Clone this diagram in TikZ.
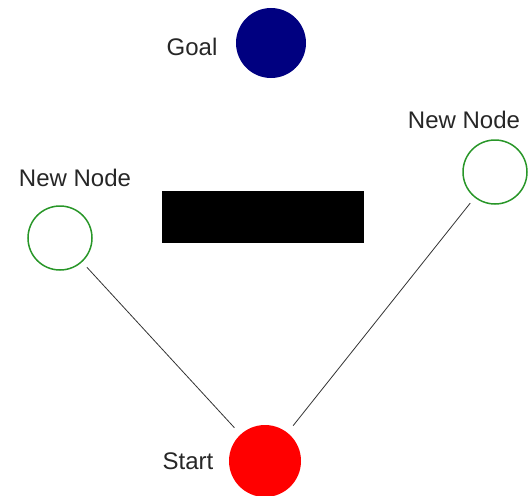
\documentclass[tikz,border=0pt]{standalone}
\usepackage{fontspec}
\setmainfont{Liberation Sans}
\usetikzlibrary{positioning}
\definecolor{goalblue}{RGB}{0,0,128}
\definecolor{nodegreen}{RGB}{40,150,40}

\begin{document}
\begin{tikzpicture}[x=1pt,y=-1pt,
  every node/.style={font=\fontsize{24}{28}\selectfont, text=black!85},
  vertex/.style={circle, draw=nodegreen, line width=1.5pt, minimum size=64pt, inner sep=0pt},
  edge/.style={black!80, line width=0.8pt, shorten <=7pt, shorten >=9pt}]
\useasboundingbox (0,0) rectangle (529,495);
% goal and start
\node[circle, fill=goalblue, minimum size=70pt, inner sep=0pt] (goal) at (271,43) {};
\node (goaltext) at (192,47) {Goal};
\node[circle, fill=red, minimum size=72pt, inner sep=0pt] (start) at (265,461) {};
\node (starttext) at (188,461) {Start};
% obstacle
\fill[black] (162,191) rectangle (364,243);
% new nodes
\node[vertex] (newleft) at (60,238) {};
\node (lefttext) at (75,178) {New Node};
\node[vertex] (newright) at (495,172) {};
\node (righttext) at (464,120) {New Node};
\draw[edge] (newleft) -- (start);
\draw[edge] (newright) -- (start);
\end{tikzpicture}
\end{document}
